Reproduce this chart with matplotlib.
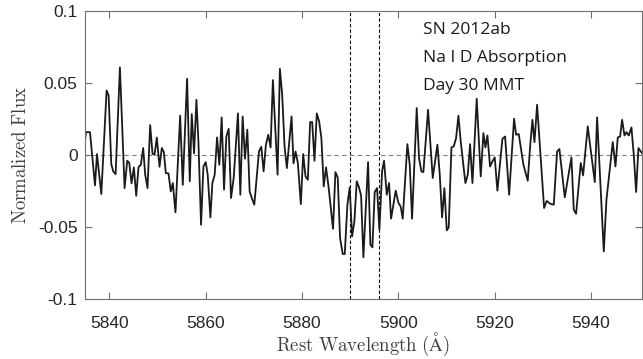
import matplotlib
matplotlib.use("Agg")
import matplotlib.pyplot as plt

# Spectrum (rest wavelength in Angstrom, normalized flux)
wavelength = [
    5834.9, 5835.17, 5836.00, 5837.04, 5837.45, 5838.35, 5839.45, 5839.87, 5840.42, 5840.83,
    5841.32, 5842.21, 5843.18, 5843.73, 5844.15, 5844.63, 5845.11, 5845.59, 5846.08, 5846.56,
    5847.04, 5847.46, 5847.94, 5848.49, 5848.98, 5849.39, 5849.87, 5850.43, 5850.91,
    5851.32, 5851.74, 5852.29, 5852.77, 5853.19, 5853.74, 5854.71, 5855.26, 5856.15, 5856.71,
    5857.12, 5857.60, 5858.09, 5858.50, 5859.05, 5859.54, 5860.02, 5860.43, 5860.99, 5861.40,
    5861.88, 5862.37, 5862.85, 5863.33, 5863.82, 5864.30, 5864.78, 5865.27, 5865.82, 5866.71,
    5867.20, 5867.68, 5868.17, 5868.65, 5869.13, 5869.61, 5870.10, 5871.07, 5871.55, 5872.03,
    5872.51, 5873.00, 5873.48, 5873.96, 5874.93, 5875.41, 5875.89, 5876.38, 5876.86, 5877.83,
    5878.24, 5878.66, 5879.14, 5879.76, 5880.24, 5880.73, 5881.21, 5881.69, 5882.11, 5882.59,
    5883.07, 5883.56, 5884.02, 5884.51, 5884.99, 5885.50, 5886.44, 5886.93, 5887.41, 5887.90,
    5888.45, 5888.87, 5889.42, 5889.90, 5890.39, 5890.87, 5891.36, 5891.77, 5892.26, 5892.74,
    5893.71, 5894.19, 5894.61, 5895.09, 5895.58, 5896.06, 5896.62, 5897.03, 5897.59, 5898.07,
    5898.48, 5899.45, 5900.00, 5900.49, 5900.90, 5901.87, 5902.36, 5902.84, 5903.81, 5904.29,
    5904.78, 5905.19, 5906.16, 5907.13, 5908.10, 5908.59, 5909.07, 5909.55, 5910.04, 5910.45,
    5911.01, 5911.49, 5911.98, 5912.46, 5912.94, 5913.91, 5914.40, 5914.88, 5915.37, 5916.26,
    5917.09, 5917.65, 5918.06, 5918.48, 5919.03, 5919.52, 5920.00, 5920.55, 5921.59, 5922.15,
    5922.98, 5924.01, 5924.43, 5924.98, 5925.95, 5926.85, 5927.34, 5927.82, 5928.24, 5928.79,
    5929.50, 5930.24, 5930.78, 5931.50, 5932.25, 5932.94, 5933.42, 5934.53, 5935.91, 5936.40,
    5936.88, 5937.85, 5938.34, 5939.30, 5940.76, 5941.24, 5942.63, 5943.18, 5944.49, 5945.05,
    5945.53, 5946.02, 5946.43, 5946.92, 5947.33, 5947.82, 5948.37, 5948.85, 5949.34, 5949.82,
    5950.31, 5950.79,
]
flux = [
    0.0083, 0.0159, 0.0159, -0.0210, 0.0007, -0.0270, 0.0448, 0.0413, -0.0062, -0.0113,
    -0.0132, 0.0608, -0.0229, -0.0039, -0.0053, -0.0196, -0.0085, -0.0282, -0.0083, -0.0067,
    0.0049, -0.0136, -0.0229, 0.0208, 0.0009, 0.0002, 0.0122, -0.0081, 0.0049,
    0.0021, -0.0125, -0.0127, -0.0252, -0.0194, -0.0397, 0.0273, -0.0206, 0.0529, -0.0182,
    0.0284, 0.0012, 0.0383, 0.0095, -0.0483, -0.0079, -0.0049, -0.0136, -0.0432, -0.0194,
    -0.0136, 0.0122, -0.0067, 0.0261, -0.0240, 0.0129, 0.0182, -0.0298, -0.0159, 0.0289,
    -0.0275, 0.0268, -0.0025, 0.0176, -0.0252, -0.0300, -0.0344, 0.0025, 0.0058, -0.0113,
    0.0072, 0.0141, 0.0053, 0.0520, -0.0136, 0.0598, 0.0418, 0.0060, -0.0090, 0.0268,
    -0.0058, 0.0025, -0.0055, -0.0340, 0.0007, -0.0148, -0.0171, 0.0229, 0.0229, -0.0039,
    0.0289, 0.0233, 0.0118, -0.0217, -0.0085, -0.0217, -0.0511, -0.0118, -0.0155, -0.0575,
    -0.0686, -0.0686, -0.0344, -0.0224, -0.0564, -0.0460, -0.0182, -0.0217, -0.0280, -0.0709,
    -0.0049, -0.0621, -0.0640, -0.0256, -0.0229, -0.0517, -0.0113, -0.0039, -0.0275, -0.0194,
    -0.0441, -0.0247, -0.0330, -0.0358, -0.0441, 0.0076, -0.0067, -0.0441, 0.0326, -0.0021,
    -0.0113, -0.0118, 0.0314, -0.0159, 0.0072, -0.0136, -0.0432, -0.0229, -0.0522, -0.0501,
    0.0053, 0.0060, 0.0118, 0.0273, 0.0095, -0.0194, -0.0136, 0.0076, -0.0194, 0.0390,
    -0.0148, 0.0152, 0.0053, 0.0136, -0.0079, -0.0044, -0.0016, -0.0247, 0.0113, 0.0129,
    -0.0275, 0.0252, 0.0141, 0.0146, -0.0067, -0.0178, 0.0060, 0.0245, 0.0090, 0.0349,
    0.0000, -0.0367, -0.0318, -0.0337, -0.0344, 0.0025, 0.0042, -0.0293, -0.0016, -0.0379,
    -0.0407, -0.0055, -0.0141, 0.0199, -0.0187, 0.0261, -0.0668, -0.0310, 0.0090, -0.0079,
    0.0122, 0.0129, 0.0245, 0.0136, 0.0159, 0.0136, 0.0192, 0.0002, -0.0256, 0.0049,
    0.0025, 0.0002,
]

na_d_lines = [5889.95, 5895.92]
x_ticks = [5840, 5860, 5880, 5900, 5920, 5940]
x_tick_labels = ["5840", "5860", "5880", "5900", "5920", "5940"]
y_ticks = [-0.1, -0.05, 0, 0.05, 0.1]
y_tick_labels = ["-0.1", "-0.05", "0", "0.05", "0.1"]
annotations = ["SN 2012ab", "Na I D Absorption", "Day 30 MMT"]

plt.rcParams["mathtext.fontset"] = "cm"

fig = plt.figure(figsize=(6.43, 3.59), dpi=100)
ax = fig.add_axes([0.1317, 0.1663, 0.8663, 0.8034])

ax.axhline(0, color="#808080", lw=0.8, dashes=(4, 3), zorder=1)
for wl in na_d_lines:
    ax.axvline(wl, color="black", lw=0.8, dashes=(3, 2), zorder=1)

ax.plot(wavelength, flux, color="#1a1a1a", lw=1.3, zorder=2)

ax.set_xlim(5834.9, 5950.5)
ax.set_ylim(-0.1, 0.1)
ax.set_xticks(x_ticks)
ax.set_xticklabels(x_tick_labels)
ax.set_yticks(y_ticks)
ax.set_yticklabels(y_tick_labels)

for sp in ax.spines.values():
    sp.set_color("#6e6e6e")
    sp.set_linewidth(0.8)
ax.tick_params(direction="in", length=5, width=0.8, color="#6e6e6e",
               top=True, right=True, labelsize=12.5, labelcolor="#262626")
ax.tick_params(axis="x", pad=12)
ax.tick_params(axis="y", pad=5)
for lab in ax.get_xticklabels() + ax.get_yticklabels():
    lab.set_family("Liberation Sans")

ax.set_xlabel(r"$\mathrm{Rest\ Wavelength\ (\AA)}$", fontsize=13.5, color="#404040", labelpad=0)
ax.set_ylabel(r"$\mathrm{Normalized\ Flux}$", fontsize=13.5, color="#404040", labelpad=6)

for i, t in enumerate(annotations):
    ax.text(0.607, 0.933 - i * 0.096, t, transform=ax.transAxes, fontsize=12.5,
            family="Open Sans", color="#1a1a1a", va="center", ha="left")

fig.savefig("out.png", dpi=100)
